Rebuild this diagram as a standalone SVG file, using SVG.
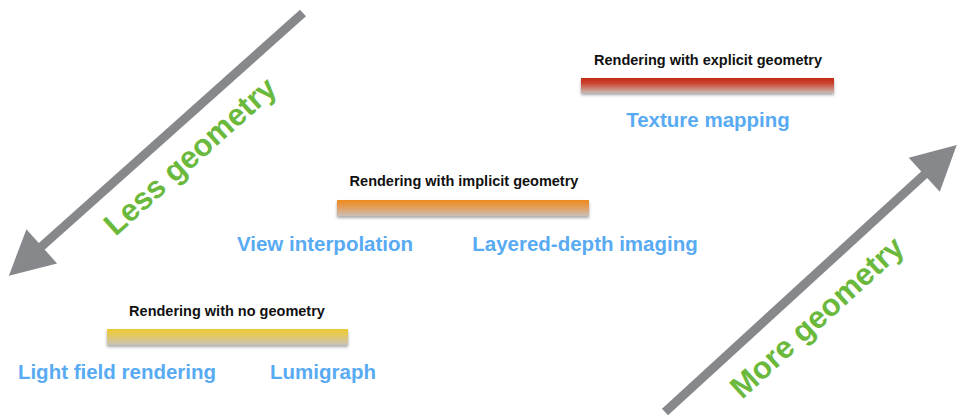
<svg xmlns="http://www.w3.org/2000/svg" width="957" height="417" viewBox="0 0 957 417">
<defs>
<style>
.title{font-family:"Liberation Sans",Arial,sans-serif;font-weight:bold;font-size:14.5px;fill:#111;text-anchor:middle}
.item{font-family:"Liberation Sans",Arial,sans-serif;font-weight:bold;font-size:20.5px;fill:#58abf2;text-anchor:middle}
.axis{font-family:"Liberation Sans",Arial,sans-serif;font-weight:bold;font-size:31px;fill:#6ab93d;text-anchor:middle}
.shaft{stroke:#86888b;stroke-width:9;fill:none}
</style>
<marker id="head" markerUnits="userSpaceOnUse" markerWidth="50" markerHeight="50" refX="0" refY="0" viewBox="0 -25 45 50" orient="auto" overflow="visible">
<path d="M-1,-23 L43,0 L-1,23 z" fill="#86888b"/>
</marker>
<linearGradient id="gRed" x1="0" y1="0" x2="0" y2="1"><stop offset="0" stop-color="#c52a12"/><stop offset="0.35" stop-color="#c9432e"/><stop offset="1" stop-color="#cbbcb6"/></linearGradient>
<linearGradient id="gOrange" x1="0" y1="0" x2="0" y2="1"><stop offset="0" stop-color="#ec8a1f"/><stop offset="0.35" stop-color="#e7994a"/><stop offset="1" stop-color="#cbbfb6"/></linearGradient>
<linearGradient id="gYellow" x1="0" y1="0" x2="0" y2="1"><stop offset="0" stop-color="#ecc935"/><stop offset="0.35" stop-color="#e5c957"/><stop offset="1" stop-color="#c9c3b6"/></linearGradient>
<filter id="sh" x="-5%" y="-50%" width="110%" height="220%"><feDropShadow dx="0" dy="2" stdDeviation="1.5" flood-color="#000" flood-opacity="0.35"/></filter>
</defs>
<rect width="957" height="417" fill="#fff"/>
<g id="connectors">
<line class="shaft" x1="303" y1="13" x2="41" y2="247" marker-end="url(#head)"/>
<line class="shaft" x1="665" y1="412" x2="925" y2="174" marker-end="url(#head)"/>
</g>
<g id="less-geometry"><text class="axis" transform="translate(197,164) rotate(-41.8)">Less geometry</text></g>
<g id="more-geometry"><text class="axis" transform="translate(824,325) rotate(-42.4)">More geometry</text></g>
<g id="explicit">
<text class="title" x="708" y="65">Rendering with explicit geometry</text>
<rect x="581" y="78" width="253" height="15" fill="url(#gRed)" filter="url(#sh)"/>
<text class="item" x="708" y="127">Texture mapping</text>
</g>
<g id="implicit">
<text class="title" x="464" y="186">Rendering with implicit geometry</text>
<rect x="337" y="200" width="252" height="16" fill="url(#gOrange)" filter="url(#sh)"/>
<text class="item" x="325" y="251">View interpolation</text>
<text class="item" x="585" y="251">Layered-depth imaging</text>
</g>
<g id="none">
<text class="title" x="227" y="316">Rendering with no geometry</text>
<rect x="107" y="329" width="241" height="16" fill="url(#gYellow)" filter="url(#sh)"/>
<text class="item" x="117" y="379">Light field rendering</text>
<text class="item" x="323" y="379">Lumigraph</text>
</g>
</svg>
